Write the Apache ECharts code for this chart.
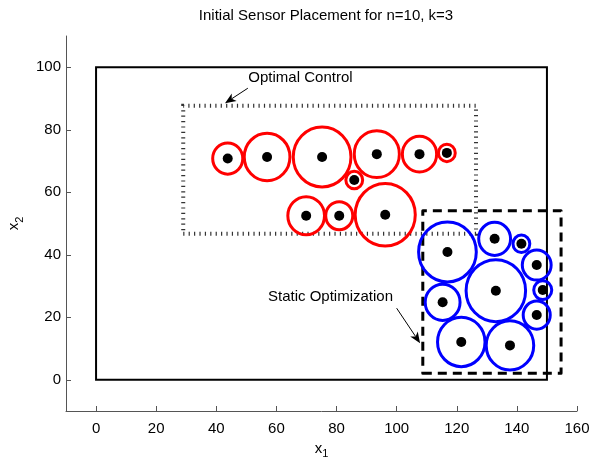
<!DOCTYPE html>
<html>
<head>
<meta charset="utf-8">
<script src="https://cdn.jsdelivr.net/npm/echarts@6/dist/echarts.min.js"></script>
<style>html,body{margin:0;padding:0;background:#fff}#c{width:598px;height:461px}</style>
</head>
<body>
<div id="c"></div>
<script>
// ---- data ----
const titleText = 'Initial Sensor Placement for n=10, k=3';
const xTicks = [0, 20, 40, 60, 80, 100, 120, 140, 160];
const yTicks = [0, 20, 40, 60, 80, 100];
// Optimal Control sensors (red)
const redX = [43.8, 56.9, 75.2, 93.4, 107.6, 116.7, 85.9, 69.9, 80.9, 96.2];
const redY = [70.8, 71.3, 71.3, 72.2, 72.2, 72.6, 63.9, 52.5, 52.5, 52.8];
const redR = [5.0, 7.6, 9.6, 7.5, 5.7, 2.8, 2.8, 6.1, 4.5, 10.0];
// Static Optimization sensors (blue)
const blueX = [116.9, 132.6, 141.5, 146.6, 148.6, 133.0, 115.3, 146.6, 121.5, 137.7];
const blueY = [40.9, 45.1, 43.5, 36.7, 28.7, 28.5, 24.8, 20.7, 12.1, 11.0];
const blueR = [9.6, 5.3, 2.8, 4.8, 3.0, 9.9, 5.8, 4.5, 7.9, 7.9];
// rectangles [x0, y0, x1, y1]
const domainRect = [0, 0, 150, 100];
const ocRect = [29.0, 46.7, 126.4, 87.7];
const soRect = [108.7, 2.1, 154.7, 54.1];
// annotations
const annLabels = ['Optimal Control', 'Static Optimization'];
const annTextX = [68.0, 78.0];
const annTextY = [96.6, 26.4];
const arrowFromX = [50.5, 100.0];
const arrowFromY = [93.3, 22.9];
const arrowToX = [42.9, 107.8];
const arrowToY = [88.5, 11.7];

// ---- build ----
const FONT = 'Liberation Sans, Arial, Helvetica, sans-serif';
const zip3 = (a, b, c) => a.map((v, i) => [v, b[i], c[i]]);
const zip2 = (a, b) => a.map((v, i) => [v, b[i]]);

function circleSeries(data, color) {
  return {
    type: 'custom', data: data, encode: { x: 0, y: 1 }, z: 3, silent: true,
    renderItem: function (params, api) {
      const c = api.coord([api.value(0), api.value(1)]);
      const s = api.size([api.value(2), api.value(2)]);
      return { type: 'ellipse', shape: { cx: c[0], cy: c[1], rx: s[0], ry: s[1] },
        style: { fill: 'none', stroke: color, lineWidth: 3 } };
    }
  };
}
function rectSeries(rect, style, z) {
  return {
    type: 'custom', data: [rect], encode: { x: [0, 2], y: [1, 3] }, z: z, silent: true,
    renderItem: function (params, api) {
      const x0 = api.value(0), y0 = api.value(1), x1 = api.value(2), y1 = api.value(3);
      const pts = [api.coord([x0, y0]), api.coord([x1, y0]), api.coord([x1, y1]), api.coord([x0, y1])];
      return { type: 'polygon', shape: { points: pts }, style: Object.assign({ fill: 'none' }, style) };
    }
  };
}
const annData = annLabels.map((t, i) => [annTextX[i], annTextY[i], arrowFromX[i], arrowFromY[i], arrowToX[i], arrowToY[i], t]);

const option = {
  animation: false,
  backgroundColor: '#fff',
  title: {
    text: titleText, left: 321, top: 3, textAlign: 'center',
    textStyle: { fontFamily: FONT, fontSize: 15, fontWeight: 'normal', color: '#000' }
  },
  grid: { left: 66, right: 21, top: 36, bottom: 50, containLabel: false, outerBoundsMode: 'none' },
  xAxis: {
    type: 'value', min: -10, max: 160,
    name: '{b|x}{s|1}', nameLocation: 'middle', nameGap: 12,
    nameTextStyle: { rich: { b: { fontFamily: FONT, fontSize: 15, color: '#000' }, s: { fontFamily: FONT, fontSize: 11, color: '#000', padding: [12, 0, 0, 0] } } },
    axisLine: { show: true, onZero: false, lineStyle: { color: '#555', width: 1 } },
    axisTick: { show: true, inside: true, length: 5, customValues: xTicks, lineStyle: { color: '#555' } },
    axisLabel: { customValues: xTicks, fontFamily: FONT, fontSize: 15, color: '#000', margin: 10 },
    splitLine: { show: false }
  },
  yAxis: {
    type: 'value', min: -10, max: 110,
    name: '{b|x}{s|2}', nameLocation: 'middle', nameGap: 40, nameRotate: 90,
    nameTextStyle: { rich: { b: { fontFamily: FONT, fontSize: 15, color: '#000' }, s: { fontFamily: FONT, fontSize: 11, color: '#000', padding: [12, 0, 0, 0] } } },
    axisLine: { show: true, onZero: false, lineStyle: { color: '#555', width: 1 } },
    axisTick: { show: true, inside: true, length: 5, customValues: yTicks, lineStyle: { color: '#555' } },
    axisLabel: { customValues: yTicks, fontFamily: FONT, fontSize: 15, color: '#000', margin: 5 },
    splitLine: { show: false }
  },
  series: [
    rectSeries(domainRect, { stroke: '#000', lineWidth: 2 }, 1),
    rectSeries(ocRect, { stroke: '#333', lineWidth: 4, lineDash: [1.2, 4.2], lineCap: 'butt' }, 1),
    rectSeries(soRect, { stroke: '#000', lineWidth: 3, lineDash: [9, 6], lineJoin: 'round' }, 2),
    circleSeries(zip3(redX, redY, redR), '#ff0000'),
    circleSeries(zip3(blueX, blueY, blueR), '#0000ff'),
    { type: 'scatter', data: zip2(redX, redY), symbol: 'circle', symbolSize: 10, itemStyle: { color: '#000', opacity: 1 }, z: 4, silent: true },
    { type: 'scatter', data: zip2(blueX, blueY), symbol: 'circle', symbolSize: 10, itemStyle: { color: '#000', opacity: 1 }, z: 4, silent: true },
    {
      type: 'custom', data: annData, encode: { x: 0, y: 1 }, z: 5, silent: true,
      renderItem: function (params, api) {
        const t = api.coord([api.value(0), api.value(1)]);
        const a = api.coord([api.value(2), api.value(3)]);
        const b = api.coord([api.value(4), api.value(5)]);
        const dx = b[0] - a[0], dy = b[1] - a[1];
        const L = Math.sqrt(dx * dx + dy * dy);
        const ux = dx / L, uy = dy / L, nx = -uy, ny = ux;
        const hl = 11, hw = 4.5, back = 8;
        const p1 = [b[0] - ux * hl + nx * hw, b[1] - uy * hl + ny * hw];
        const p2 = [b[0] - ux * hl - nx * hw, b[1] - uy * hl - ny * hw];
        const p3 = [b[0] - ux * back, b[1] - uy * back];
        return { type: 'group', children: [
          { type: 'text', style: { x: t[0], y: t[1], text: annLabels[params.dataIndex], fontFamily: FONT, fontSize: 15, fill: '#000', align: 'center', verticalAlign: 'middle' } },
          { type: 'line', shape: { x1: a[0], y1: a[1], x2: p3[0], y2: p3[1] }, style: { stroke: '#000', lineWidth: 1 } },
          { type: 'polygon', shape: { points: [b, p1, p3, p2] }, style: { fill: '#000' } }
        ] };
      }
    }
  ]
};
const chart = echarts.init(document.getElementById('c'), null, { renderer: 'canvas' });
chart.setOption(option);
</script>
</body>
</html>
